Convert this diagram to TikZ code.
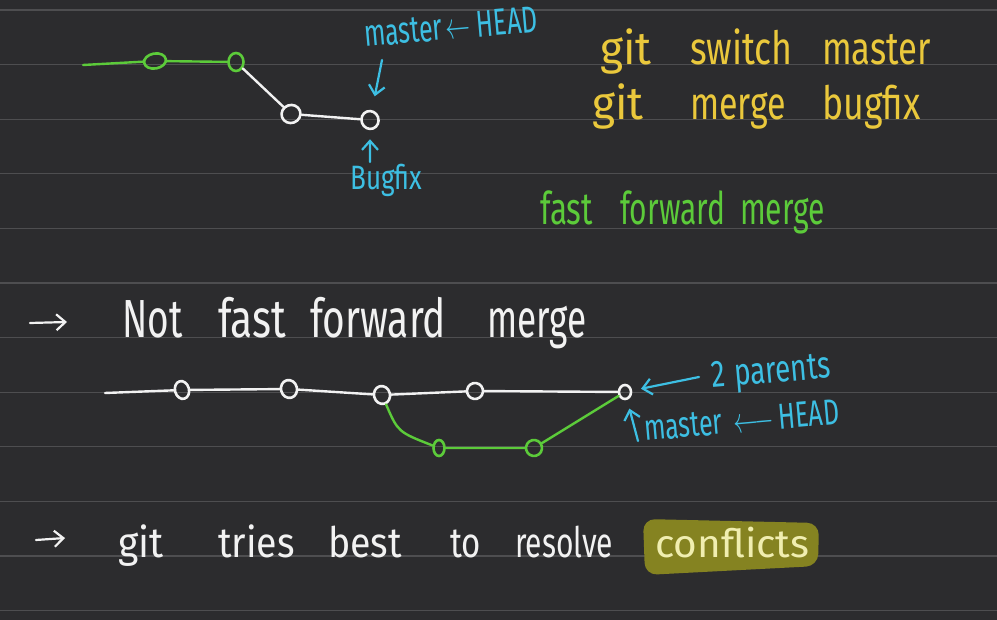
\documentclass[tikz,border=0pt]{standalone}
\usepackage{fontspec}
\setmainfont{Fira Sans}
\usetikzlibrary{shapes.geometric,arrows.meta}
\definecolor{bgdark}{HTML}{2C2C2E}
\definecolor{rulegray}{HTML}{4E4E50}
\definecolor{gitgreen}{HTML}{5CCB3A}
\definecolor{chalk}{HTML}{F2F2F2}
\definecolor{cyanink}{HTML}{3DBFE3}
\definecolor{yellowink}{HTML}{EAC83C}
\definecolor{hlolive}{HTML}{858321}
\definecolor{paleyellow}{HTML}{F0EEB0}
\newcommand\hwbox[4]{\makebox[#1pt][l]{\scalebox{#2}[#3]{#4}}}
\begin{document}
\begin{tikzpicture}[x=1pt,y=-1pt,
  commit/.style={draw,ellipse,inner sep=0pt,line width=2.6pt},
  branch/.style={line width=2.4pt,line cap=round,line join=round},
  pointer/.style={cyanink,line width=2.2pt,line cap=round,-{Straight Barb[length=9pt,width=16pt]}},
  bullet/.style={chalk,line width=2.2pt,line cap=round,-{Straight Barb[length=9pt,width=16pt]}},
  hand/.style={inner sep=0pt,anchor=base west},
]
\fill[bgdark] (0,0) rectangle (997,620);
\useasboundingbox (0,0) rectangle (997,620);
\foreach \i in {0,...,11} {\draw[rulegray,line width=1.2pt] (0,{10+54.6*\i}) -- (997,{10+54.6*\i});}

% ---- top graph
\node[commit,gitgreen,minimum width=22pt,minimum height=15pt,rotate=10] (c1) at (155,61) {};
\node[commit,gitgreen,minimum width=15pt,minimum height=18pt] (c2) at (236,62) {};
\node[commit,chalk,minimum width=19pt,minimum height=18pt,rotate=20] (c3) at (291,114) {};
\node[commit,chalk,minimum width=17pt,minimum height=18pt,rotate=20] (c4) at (370,120) {};
\coordinate (g0) at (83,65);
\draw[branch,gitgreen] (g0) -- (c1) -- (c2);
\draw[branch,chalk] (c2) -- (c3) -- (c4);

\node[hand,cyanink,rotate=5,font=\fontsize{25}{30}\selectfont] (lbl1) at (365,47)
  {\hwbox{82}{1}{1.5}{master}\hwbox{31}{1}{1.5}{$\leftarrow$}\scalebox{1}[1.5]{HEAD}};
\coordinate (p1s) at (382,60);
\draw[pointer,shorten >=14pt] (p1s) -- (c4);
\node[hand,cyanink,font=\fontsize{26}{30}\selectfont] (lbl2) at (350,190) {\scalebox{1}[1.3]{Bugfix}};
\coordinate (p2s) at (370,162);
\draw[pointer,shorten >=9pt] (p2s) -- (c4);

% ---- commands
\node[hand,yellowink,font=\fontsize{34}{40}\selectfont] (cmd1) at (600,65)
  {\hwbox{90}{1.3}{1.35}{git}\hwbox{132}{1.05}{1.35}{switch}\scalebox{1.02}[1.35]{master}};
\node[hand,yellowink,font=\fontsize{34}{40}\selectfont] (cmd2) at (592,120)
  {\hwbox{98}{1.3}{1.35}{git}\hwbox{132}{1}{1.35}{merge}\scalebox{1.05}[1.35]{bugfix}};
\node[hand,gitgreen,font=\fontsize{30}{36}\selectfont] (ff) at (540,225)
  {\hwbox{80}{1.05}{1.5}{fast}\hwbox{120}{1}{1.5}{forward}\scalebox{1}[1.5]{merge}};

% ---- not fast forward
\coordinate (a1s) at (30,323); \coordinate (a1e) at (67,322);
\draw[bullet] (a1s) -- (a1e);
\node[hand,chalk,font=\fontsize{37}{44}\selectfont] (nff) at (122,338)
  {\hwbox{96}{1}{1.45}{Not}\hwbox{92}{1.1}{1.45}{fast}\hwbox{177}{1.05}{1.45}{forward}\scalebox{0.95}[1.45]{merge}};

\node[commit,chalk,minimum width=14pt,minimum height=18pt,rotate=15] (d1) at (182,390) {};
\node[commit,chalk,minimum width=16pt,minimum height=18pt,rotate=15] (d2) at (289,389) {};
\node[commit,chalk,minimum width=16pt,minimum height=18pt,rotate=15] (d3) at (382,395) {};
\node[commit,chalk,minimum width=16pt,minimum height=16pt,rotate=15] (d4) at (475,391) {};
\node[commit,chalk,minimum width=12pt,minimum height=14pt] (d5) at (625,392) {};
\node[commit,gitgreen,minimum width=11pt,minimum height=16pt] (e1) at (439,448) {};
\node[commit,gitgreen,minimum width=16pt,minimum height=16pt,rotate=15] (e2) at (534,448) {};
\coordinate (m0) at (105,393);
\draw[branch,chalk] (m0) -- (d1) -- (d2) -- (d3) -- (d4) -- (d5);
\draw[branch,gitgreen] (d3) .. controls (398,432) .. (e1) -- (e2) -- (d5);

\node[hand,cyanink,rotate=5,font=\fontsize{28}{34}\selectfont] (par) at (712,388)
  {\hwbox{23}{1}{1.35}{2}\scalebox{1}[1.35]{parents}};
\coordinate (p3s) at (699,377);
\draw[pointer,shorten >=9pt] (p3s) -- (d5);
\node[hand,cyanink,rotate=5,font=\fontsize{25}{30}\selectfont] (lbl3) at (645,441)
  {\hwbox{90}{1}{1.45}{master}\hwbox{45}{1}{1.45}{$\longleftarrow$}\scalebox{1}[1.45]{HEAD}};
\coordinate (p4s) at (638,441);
\draw[pointer,shorten >=9pt] (p4s) -- (d5);

% ---- conflicts
\coordinate (a2s) at (36,540); \coordinate (a2e) at (65,538);
\draw[bullet] (a2s) -- (a2e);
\fill[hlolive,rounded corners=12pt] (643,519) -- (819,523) -- (818,566) -- (645,575) -- cycle;
\node[hand,chalk,font=\fontsize{30}{36}\selectfont] (tries) at (118,557)
  {\hwbox{100}{1.3}{1.4}{git}\hwbox{110}{1.25}{1.4}{tries}\hwbox{122}{1.25}{1.4}{best}\hwbox{65}{1.1}{1.4}{to}\hwbox{140}{1}{1.4}{resolve}};
\node[hand,paleyellow,font=\fontsize{30}{36}\selectfont] (conf) at (655,557) {\scalebox{1.35}[1.3]{conflicts}};
\end{tikzpicture}
\end{document}
